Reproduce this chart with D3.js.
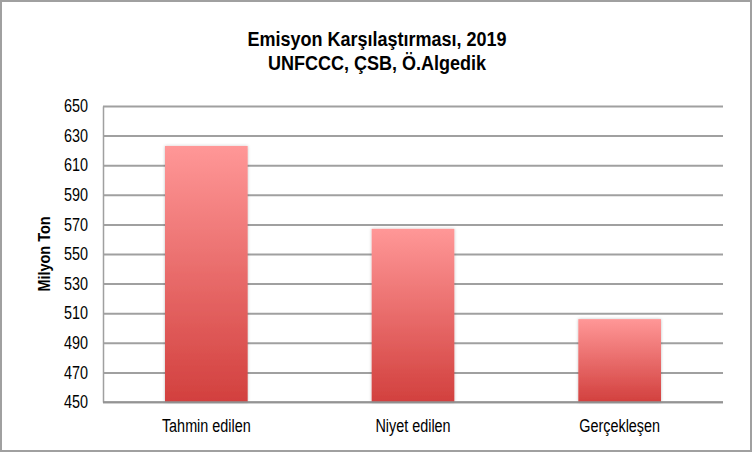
<html><head>
<script src="https://d3js.org/d3.v7.min.js"></script>
<style>
  body { margin: 0; background: #fff; }
  text { font-family: "Liberation Sans", Arial, sans-serif; fill: #000; }
  .grid line { stroke: #a0a0a0; stroke-width: 2px; }
  .grid .domain { stroke: none; }
</style>
</head>
<body>
<script>
// data
const categories = ["Tahmin edilen", "Niyet edilen", "Gerçekleşen"];
const values = [623, 567, 506];
const yTicks = [450, 470, 490, 510, 530, 550, 570, 590, 610, 630, 650];
const titleLines = ["Emisyon Karşılaştırması, 2019", "UNFCCC, ÇSB, Ö.Algedik"];
const yLabel = "Milyon Ton";

const width = 752, height = 452;
const margin = {top: 106, bottom: 50, left: 103, right: 29};

const svg = d3.select("body").append("svg")
    .attr("width", width)
    .attr("height", height);

// no narrow font installed, so squeeze the glyphs a bit
function condense(sel, k) {
  sel.each(function() {
    const w = this.getComputedTextLength();
    d3.select(this).attr("textLength", w * k).attr("lengthAdjust", "spacingAndGlyphs");
  });
}

// outer frame
svg.append("rect")
    .attr("x", 1).attr("y", 1)
    .attr("width", width - 2).attr("height", height - 2)
    .attr("fill", "#fff")
    .attr("stroke", "#a0a0a0")
    .attr("stroke-width", 2);

const defs = svg.append("defs");
const grad = defs.append("linearGradient")
    .attr("id", "barGrad")
    .attr("x1", 0).attr("y1", 0).attr("x2", 0).attr("y2", 1);
grad.append("stop").attr("offset", "0%").attr("stop-color", "#ff9797");
grad.append("stop").attr("offset", "100%").attr("stop-color", "#d2403e");

const shadow = defs.append("filter").attr("id", "shadow")
    .attr("x", "-10%").attr("y", "-10%").attr("width", "120%").attr("height", "120%");
shadow.append("feDropShadow")
    .attr("dx", 0).attr("dy", 0).attr("stdDeviation", 1.5)
    .attr("flood-color", "#000").attr("flood-opacity", 0.25);

const x = d3.scaleBand()
    .domain(categories)
    .range([margin.left, width - margin.right])
    .paddingInner(0.6)
    .paddingOuter(0.3);

const y = d3.scaleLinear()
    .domain([450, 650])
    .range([height - margin.bottom, margin.top]);

// gridlines
svg.append("g")
    .attr("class", "grid")
    .attr("transform", "translate(" + margin.left + ",0)")
    .call(d3.axisRight(y).tickValues(yTicks).tickSize(width - margin.left - margin.right).tickFormat(""));

// y axis
const yAxis = svg.append("g")
    .attr("transform", "translate(" + margin.left + ",0)")
    .call(d3.axisLeft(y).tickValues(yTicks).tickSize(0).tickPadding(15));
yAxis.select(".domain").attr("stroke", "#a0a0a0").attr("stroke-width", 1.5);
yAxis.selectAll("text").style("font-size", "18px").call(condense, 0.8);

// bars
svg.selectAll("rect.bar").data(values)
    .join("rect")
    .attr("class", "bar")
    .attr("x", (d, i) => x(categories[i]))
    .attr("y", d => y(d))
    .attr("width", x.bandwidth())
    .attr("height", d => y(450) - y(d))
    .attr("fill", "url(#barGrad)")
    .attr("filter", "url(#shadow)");

// baseline
svg.append("line")
    .attr("x1", margin.left).attr("x2", width - margin.right)
    .attr("y1", y(450)).attr("y2", y(450))
    .attr("stroke", "#909090").attr("stroke-width", 1.5);

// x axis
const xAxis = svg.append("g")
    .attr("transform", "translate(0," + y(450) + ")")
    .call(d3.axisBottom(x).tickSize(0).tickPadding(17));
xAxis.select(".domain").remove();
xAxis.selectAll("text").style("font-size", "18px").call(condense, 0.8);

// y label
svg.append("text")
    .attr("transform", "translate(50," + ((margin.top + height - margin.bottom) / 2) + ") rotate(-90)")
    .attr("text-anchor", "middle")
    .style("font-size", "17px")
    .style("font-weight", "bold")
    .text(yLabel)
    .call(condense, 0.85);

// title
svg.selectAll("text.title").data(titleLines)
    .join("text")
    .attr("class", "title")
    .attr("x", width / 2 + 1)
    .attr("y", (d, i) => 46 + i * 24)
    .attr("text-anchor", "middle")
    .style("font-size", "20px")
    .style("font-weight", "bold")
    .text(d => d)
    .call(condense, 0.9);
</script>
</body></html>
